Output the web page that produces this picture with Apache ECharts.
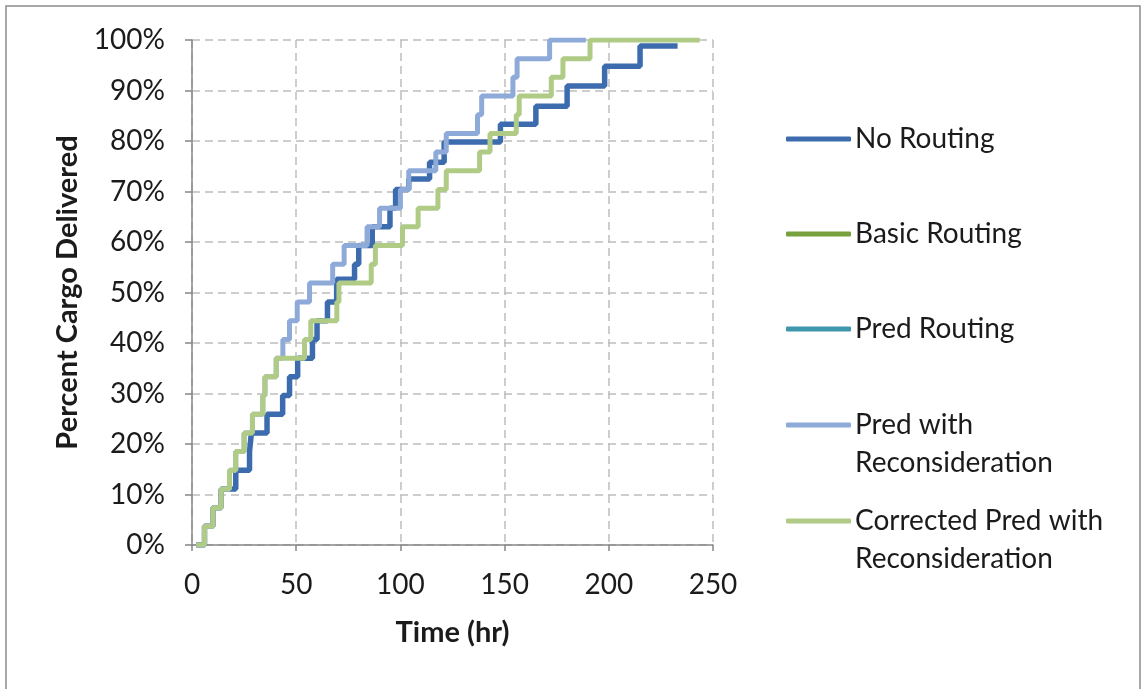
<!DOCTYPE html>
<html>
<head>
<meta charset="utf-8">
<script src="https://cdn.jsdelivr.net/npm/echarts@6/dist/echarts.min.js"></script>
<style>
  html, body { margin: 0; padding: 0; background: #ffffff; }
  #chart { width: 1144px; height: 689px; }
</style>
</head>
<body>
<div id="chart"></div>
<script>
// Cumulative share of cargo delivered over time, one step per delivery.
const seriesNames = [
  'No Routing',
  'Basic Routing',
  'Pred Routing',
  'Pred with Reconsideration',
  'Corrected Pred with Reconsideration'
];

const startHour = 2;

// No Routing: delivery times (hr) and cumulative percent after each delivery
const noRoutingHours = [6, 10, 14, 21, 27.6, 28.5, 36, 43.5, 46.8, 50.7, 57.8, 60, 65, 69.4, 78, 80, 86.5, 95, 97.7, 104, 114, 121, 148, 165, 180, 198, 215];
const noRoutingPct   = [3.7, 7.4, 11.1, 14.8, 18.5, 22.2, 25.9, 29.6, 33.3, 37.0, 40.7, 44.4, 48.1, 52.6, 55.6, 59.3, 63.0, 66.7, 70.4, 72.5, 75.8, 79.8, 83.3, 86.9, 90.9, 94.8, 98.8];
const noRoutingEnd = 233;

// Basic Routing and Pred Routing have no plotted points
const basicRoutingHours = [];
const basicRoutingPct = [];
const predRoutingHours = [];
const predRoutingPct = [];

// Pred with Reconsideration
const predReconHours = [6, 10, 14, 18, 21, 25, 29, 34, 35, 40.4, 43.6, 46.8, 50.5, 56.4, 67.5, 73, 84, 90, 100, 104, 117, 122, 137, 139, 154, 156, 171.6];
const predReconPct   = [3.7, 7.4, 11.1, 14.8, 18.5, 22.2, 25.9, 29.6, 33.3, 37.0, 40.7, 44.4, 48.1, 51.9, 55.6, 59.3, 63.0, 66.7, 70.4, 74.1, 77.8, 81.5, 85.2, 88.9, 92.6, 96.3, 100];
const predReconEnd = 189;

// Corrected Pred with Reconsideration
const correctedHours = [6, 10, 14, 18, 21, 25, 29, 34, 35, 40.4, 54, 57, 69.5, 70.5, 86, 88, 101, 108.5, 118, 122, 138, 143, 155.6, 157, 172.4, 178, 191];
const correctedPct   = [3.7, 7.4, 11.1, 14.8, 18.5, 22.2, 25.9, 29.6, 33.3, 37.0, 40.7, 44.4, 48.1, 51.9, 55.6, 59.3, 63.0, 66.7, 70.4, 74.1, 77.8, 81.5, 85.2, 88.9, 92.6, 96.3, 100];
const correctedEnd = 243.6;

const xTicks = [0, 50, 100, 150, 200, 250];
const yTicks = [0, 10, 20, 30, 40, 50, 60, 70, 80, 90, 100];

const colors = ['#3c6cae', '#78a03c', '#3f97ad', '#8eaad8', '#afcb86'];

function stepPoints(hours, pct, endHour) {
  if (!hours.length) return [];
  const pts = [[startHour, 0]];
  for (let i = 0; i < hours.length; i++) pts.push([hours[i], pct[i]]);
  pts.push([endHour, pct[pct.length - 1]]);
  return pts;
}

const seriesData = [
  stepPoints(noRoutingHours, noRoutingPct, noRoutingEnd),
  stepPoints(basicRoutingHours, basicRoutingPct, 0),
  stepPoints(predRoutingHours, predRoutingPct, 0),
  stepPoints(predReconHours, predReconPct, predReconEnd),
  stepPoints(correctedHours, correctedPct, correctedEnd)
];

const FONT = 'Lato, "Liberation Sans", sans-serif';
const TEXT = '#1b1b1b';
const LABEL_SIZE = 28;
const TITLE_SIZE = 29;

// legend rows: vertical centre of each line icon; two-line names wrap after "with"
const legendRows = [138, 233, 328, 424, 520];
const legendFirstLine = ['No Routing', 'Basic Routing', 'Pred Routing', 'Pred with', 'Corrected Pred with'];
const legendSecondLine = ['', '', '', 'Reconsideration', 'Reconsideration'];

const chart = echarts.init(document.getElementById('chart'), null, { renderer: 'canvas' });

const option = {
  backgroundColor: '#ffffff',
  animation: false,
  grid: { left: 192, top: 40, width: 521, height: 505, containLabel: false },
  xAxis: {
    type: 'value',
    min: xTicks[0],
    max: xTicks[xTicks.length - 1],
    interval: 50,
    name: 'Time (hr)',
    nameLocation: 'middle',
    nameGap: 73,
    nameTextStyle: { fontFamily: FONT, fontSize: TITLE_SIZE, fontWeight: 'bold', color: TEXT },
    axisLine: { show: true, onZero: false, lineStyle: { color: '#878787', width: 1.5 } },
    axisTick: { show: true, inside: false, length: 6, lineStyle: { color: '#878787', width: 1.5 } },
    axisLabel: { margin: 26, fontFamily: FONT, fontSize: LABEL_SIZE, color: TEXT },
    splitLine: { show: true, lineStyle: { type: [8, 5], color: '#bdbdbd', width: 1.5 } }
  },
  yAxis: {
    type: 'value',
    min: yTicks[0],
    max: yTicks[yTicks.length - 1],
    interval: 10,
    name: 'Percent Cargo Delivered',
    nameLocation: 'middle',
    nameGap: 110,
    nameTextStyle: { fontFamily: FONT, fontSize: TITLE_SIZE, fontWeight: 'bold', color: TEXT },
    axisLine: { show: true, onZero: false, lineStyle: { color: '#878787', width: 1.5 } },
    axisTick: { show: true, inside: false, length: 7, lineStyle: { color: '#878787', width: 1.5 } },
    axisLabel: { margin: 27, fontFamily: FONT, fontSize: LABEL_SIZE, color: TEXT, formatter: '{value}%' },
    splitLine: { show: true, lineStyle: { type: [8, 5], color: '#bdbdbd', width: 1.5 } }
  },
  legend: legendRows.map(function (y, i) {
    return {
      data: [seriesNames[i]],
      left: 786,
      top: y - 13,
      padding: 0,
      itemWidth: 65,
      itemHeight: 5,
      itemGap: 0,
      icon: 'roundRect',
      selectedMode: false,
      formatter: function () { return legendFirstLine[i]; },
      textStyle: { fontFamily: FONT, fontSize: LABEL_SIZE, color: TEXT, padding: [0, 0, 0, -1] }
    };
  }),
  graphic: [
    {
      type: 'rect',
      silent: true,
      shape: { x: 6, y: 6, width: 1134, height: 700 },
      style: { fill: 'none', stroke: '#8c8c8c', lineWidth: 1.5 }
    }
  ].concat(legendSecondLine.map(function (t, i) {
    return t ? {
      type: 'text',
      left: 855,
      top: legendRows[i] + 25,
      style: { text: t, font: LABEL_SIZE + 'px ' + FONT, fill: TEXT }
    } : null;
  }).filter(Boolean)),
  series: seriesNames.map(function (name, i) {
    return {
      name: name,
      type: 'line',
      step: 'end',
      data: seriesData[i],
      showSymbol: false,
      symbol: 'none',
      z: 2 + i,
      color: colors[i],
      itemStyle: { color: colors[i] },
      lineStyle: { color: colors[i], width: i === 0 ? 5.5 : 5 },
      emphasis: { disabled: true }
    };
  })
};

chart.setOption(option);
</script>
</body>
</html>
